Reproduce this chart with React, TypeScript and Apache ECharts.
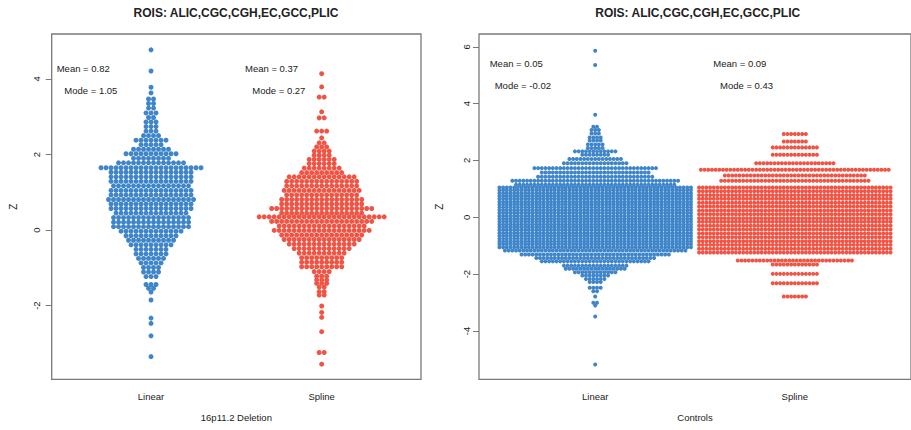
import React, { useEffect, useRef } from "react";
import * as echarts from "echarts";

// ---------- text ----------
const categories = ["Linear", "Spline"];
const panelTitle = "ROIS: ALIC,CGC,CGH,EC,GCC,PLIC";
const panelXNames = ["16p11.2 Deletion", "Controls"];
const yTicksLeft = [-2, 0, 2, 4];
const yTicksRight = [-4, -2, 0, 2, 4, 6];
const meanLabels = [["Mean = 0.82", "Mean = 0.37"], ["Mean = 0.05", "Mean = 0.09"]];
const modeLabels = [["Mode = 1.05", "Mode = 0.27"], ["Mode = -0.02", "Mode = 0.43"]];

// ---------- data: swarm rows (row value, number of points in the row) ----------
const delLinearY = [4.77, 4.21, 3.78, 3.63, 3.47, 3.35, 3.23, 3.10, 2.98, 2.86, 2.74, 2.62, 2.50, 2.38, 2.26, 2.14, 2.02, 1.90, 1.78, 1.65, 1.53, 1.41, 1.29, 1.17, 1.05, 0.93, 0.81, 0.69, 0.57, 0.45, 0.33, 0.21, 0.09, -0.03, -0.15, -0.27, -0.39, -0.51, -0.63, -0.75, -0.87, -0.99, -1.11, -1.23, -1.44, -1.54, -1.64, -1.85, -2.33, -2.47, -2.80, -3.35];
const delLinearN = [1, 1, 1, 1, 2, 2, 2, 3, 2, 3, 3, 3, 4, 7, 5, 8, 11, 8, 14, 21, 17, 17, 17, 16, 17, 17, 18, 17, 17, 15, 16, 16, 16, 13, 11, 10, 9, 7, 7, 6, 5, 4, 4, 3, 3, 2, 1, 1, 1, 1, 1, 1];

const delSplineY = [4.14, 3.79, 3.52, 3.13, 2.97, 2.62, 2.44, 2.31, 2.20, 2.09, 1.98, 1.87, 1.76, 1.64, 1.52, 1.41, 1.29, 1.17, 1.05, 0.93, 0.81, 0.69, 0.57, 0.45, 0.35, 0.23, 0.11, -0.01, -0.13, -0.25, -0.37, -0.49, -0.61, -0.73, -0.85, -0.97, -1.10, -1.22, -1.32, -1.41, -1.51, -1.63, -1.72, -2.01, -2.18, -2.31, -2.69, -3.24, -3.55];
const delSplineN = [1, 1, 2, 1, 2, 3, 1, 2, 3, 4, 4, 6, 6, 8, 9, 14, 15, 15, 16, 15, 17, 17, 21, 17, 26, 21, 18, 20, 17, 16, 14, 12, 10, 9, 9, 9, 4, 3, 3, 3, 2, 2, 2, 1, 1, 1, 1, 2, 1];

const ctrlLinearY = [5.86, 5.36, 3.61, 3.19, 3.07, 2.95, 2.81, 2.70, 2.56, 2.44, 2.32, 2.20, 2.05, 1.90, 1.73, 1.58, 1.43, 1.29, 1.15, 1.05, 0.95, 0.85, 0.75, 0.65, 0.55, 0.45, 0.35, 0.25, 0.15, 0.05, -0.05, -0.15, -0.25, -0.35, -0.45, -0.55, -0.65, -0.75, -0.85, -0.95, -1.05, -1.17, -1.31, -1.43, -1.55, -1.70, -1.81, -1.93, -2.05, -2.17, -2.28, -2.48, -2.60, -2.79, -3.01, -3.10, -3.49, -5.18];
const ctrlLinearN = [1, 1, 1, 2, 3, 3, 4, 4, 5, 5, 12, 8, 15, 18, 34, 30, 32, 46, 44, 53, 53, 53, 53, 53, 53, 53, 53, 53, 53, 53, 53, 53, 53, 53, 53, 53, 53, 53, 53, 53, 53, 50, 41, 33, 30, 18, 17, 12, 8, 6, 4, 4, 2, 1, 2, 1, 1, 1];

const ctrlSplineY = [2.93, 2.67, 2.46, 2.20, 1.90, 1.67, 1.47, 1.29, 1.05, 0.92, 0.78, 0.65, 0.51, 0.38, 0.24, 0.11, -0.03, -0.16, -0.30, -0.43, -0.57, -0.70, -0.84, -0.97, -1.11, -1.24, -1.52, -1.66, -1.99, -2.32, -2.79];
const ctrlSplineN = [7, 7, 13, 13, 22, 52, 39, 41, 53, 53, 53, 53, 53, 53, 53, 53, 53, 53, 53, 53, 53, 53, 53, 53, 53, 53, 32, 13, 13, 13, 7];

// ---------- style ----------
const BLUE = "#3F85C9";
const RED = "#F05444";
const FONT = "Liberation Sans, Arial, Helvetica, sans-serif";
const TXT = "#222";
const BORDER = "#7a7a7a";

function swarm(cat: number, ys: number[], ns: number[], dx: number, maxPerRow: number) {
  const pts: number[][] = [];
  ys.forEach((y, r) => {
    const n = ns[r];
    const m = Math.min(n, maxPerRow);
    for (let i = 0; i < n; i++) {
      const k = i % maxPerRow;
      pts.push([cat + (k - (m - 1) / 2) * dx, y]);
    }
  });
  return pts;
}

export default function App() {
  const ref = useRef<HTMLDivElement>(null);
  useEffect(() => {
    if (!ref.current) return;
    const chart = echarts.init(ref.current, undefined, { renderer: "svg" });

    const dxL = 0.0293;
    const dxR = 0.01845;

    const grids = [
      { left: 51.7, top: 34, width: 369.3, height: 345.3 },
      { left: 479, top: 34, width: 437.4, height: 345.3 },
    ];
    const yRanges = [
      [-3.95, 5.19],
      [-5.7, 6.45],
    ];
    const yTicks = [yTicksLeft, yTicksRight];

    const xAxes = [0, 1].map((i) => ({
      type: "value",
      gridIndex: i,
      min: 0.418,
      max: 2.582,
      axisLine: { show: false },
      axisTick: { show: false },
      splitLine: { show: false },
      axisLabel: {
        customValues: [1, 2],
        formatter: (v: number) => categories[Math.round(v) - 1] ?? "",
        fontSize: 9.5,
        fontFamily: FONT,
        color: TXT,
        margin: 12,
      },
      name: panelXNames[i],
      nameLocation: "middle",
      nameGap: 33,
      nameTextStyle: { fontSize: 9.5, fontFamily: FONT, color: TXT },
    }));

    const yAxes = [0, 1].map((i) => ({
      type: "value",
      gridIndex: i,
      min: yRanges[i][0],
      max: yRanges[i][1],
      axisLine: { show: false },
      splitLine: { show: false },
      axisTick: {
        show: true,
        customValues: yTicks[i],
        length: 6,
        lineStyle: { color: BORDER, width: 1 },
      },
      axisLabel: {
        customValues: yTicks[i],
        rotate: 90,
        fontSize: 9.5,
        fontFamily: FONT,
        color: TXT,
        margin: i === 0 ? 10 : 8,
        formatter: (v: number) => String(v),
      },
      name: "Z",
      nameLocation: "middle",
      nameRotate: 90,
      nameGap: i === 0 ? 33 : 35,
      nameTextStyle: { fontSize: 10, fontFamily: FONT, color: TXT },
    }));

    const mk = (data: number[][], color: string, idx: number, size: number) => ({
      type: "scatter",
      xAxisIndex: idx,
      yAxisIndex: idx,
      data,
      symbol: "circle",
      symbolSize: size,
      itemStyle: { color, opacity: 1 },
      silent: true,
    });

    const textEl = (text: string, x: number, y: number, extra: any = {}) => ({
      type: "text",
      x,
      y,
      style: {
        text,
        fontSize: 9.5,
        fontFamily: FONT,
        fill: TXT,
        verticalAlign: "middle",
        ...extra,
      },
      silent: true,
    });

    const option: any = {
      animation: false,
      backgroundColor: "#ffffff",
      grid: grids.map((g) => ({
        ...g,
        show: true,
        borderColor: BORDER,
        borderWidth: 1.3,
        backgroundColor: "transparent",
      })),
      xAxis: xAxes,
      yAxis: yAxes,
      series: [
        mk(swarm(1, delLinearY, delLinearN, dxL, 999), BLUE, 0, 5),
        mk(swarm(2, delSplineY, delSplineN, dxL, 999), RED, 0, 5),
        mk(swarm(1, ctrlLinearY, ctrlLinearN, dxR, 53), BLUE, 1, 4),
        mk(swarm(2, ctrlSplineY, ctrlSplineN, dxR, 53), RED, 1, 4),
      ],
      graphic: [
        textEl(panelTitle, 236, 13, { fontSize: 12, fontWeight: "bold", align: "center" }),
        textEl(panelTitle, 697.7, 13, { fontSize: 12, fontWeight: "bold", align: "center" }),
        textEl(meanLabels[0][0], 56.7, 68.3),
        textEl(modeLabels[0][0], 64.3, 90),
        textEl(meanLabels[0][1], 245, 68.3),
        textEl(modeLabels[0][1], 252.3, 90),
        textEl(meanLabels[1][0], 489.7, 63.7),
        textEl(modeLabels[1][0], 494.7, 85.7),
        textEl(meanLabels[1][1], 713.3, 63.7),
        textEl(modeLabels[1][1], 720, 85.7),
      ],
    };
    chart.setOption(option);
    return () => chart.dispose();
  }, []);

  return (
    <div
      ref={ref}
      style={{ position: "absolute", left: 0, top: 0, width: 911, height: 430, background: "#fff" }}
    />
  );
}
